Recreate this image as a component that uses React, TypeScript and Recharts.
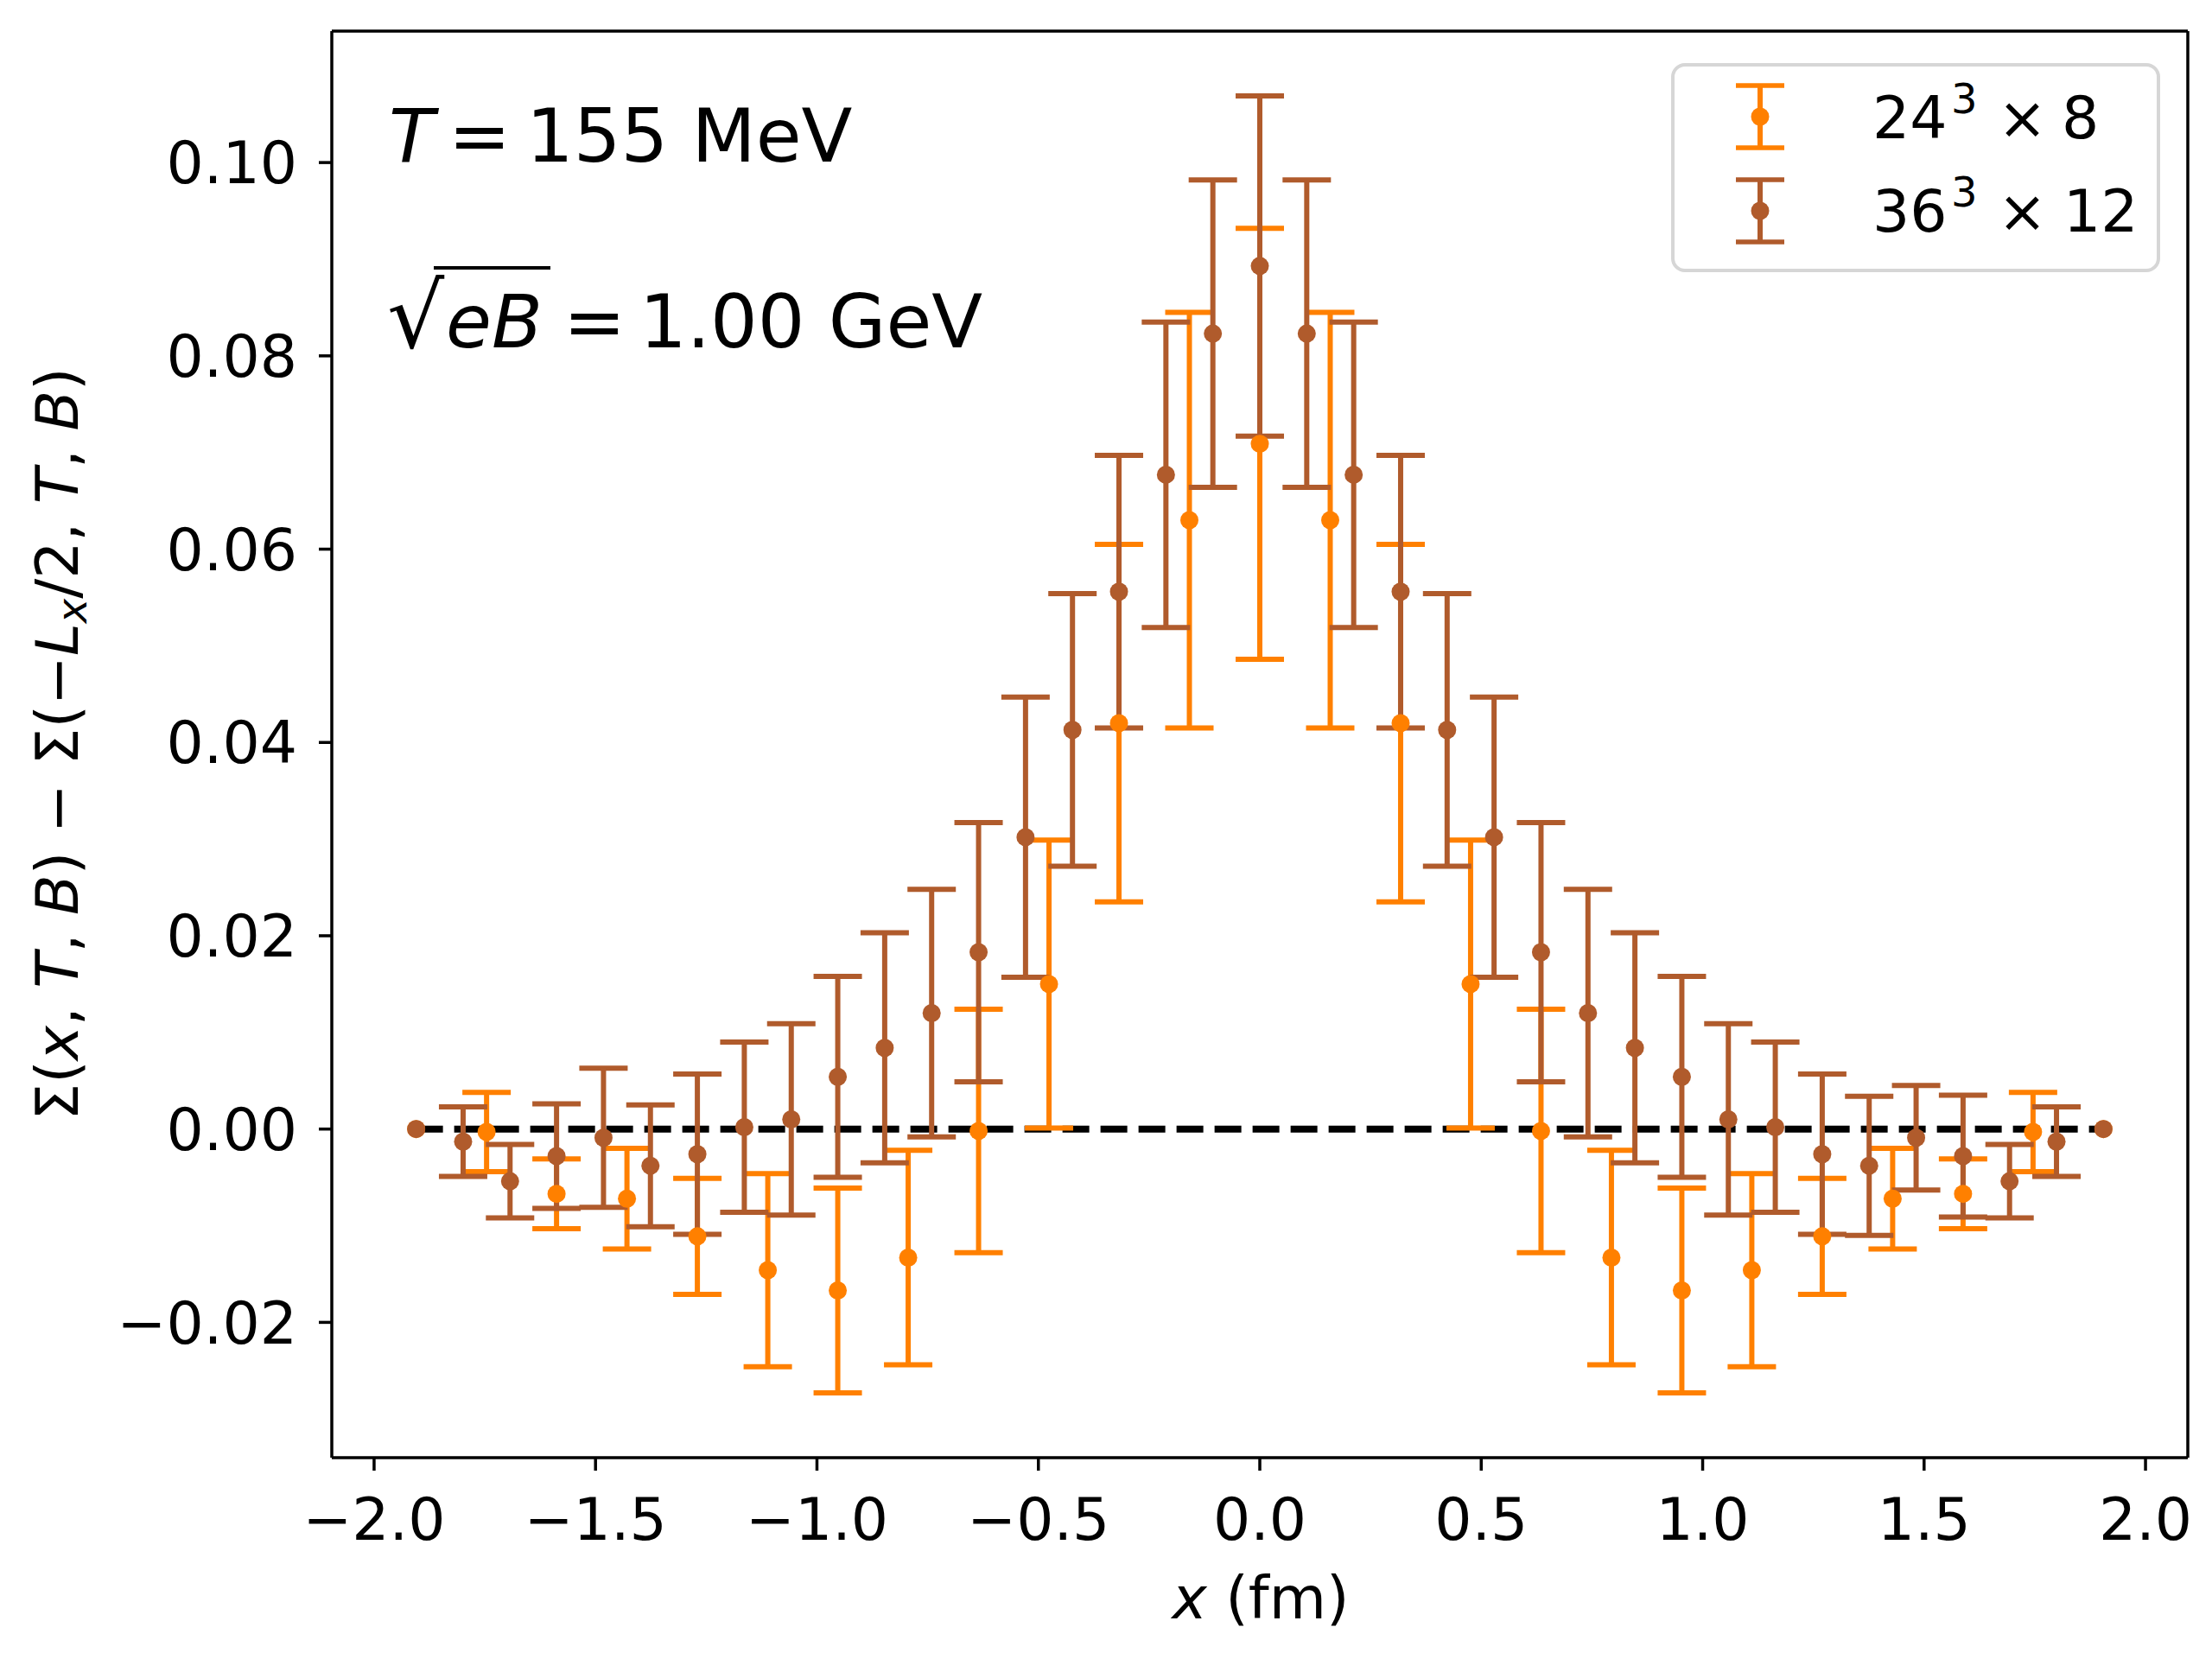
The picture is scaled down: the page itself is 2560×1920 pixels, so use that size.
import React from "react";
import {
  ScatterChart,
  Scatter,
  XAxis,
  YAxis,
  ErrorBar,
  ReferenceLine,
  Legend,
} from "recharts";

// lattice 24^3 x 8
const X_24 = [
  -1.905, -1.746, -1.588, -1.429, -1.27, -1.111, -0.953, -0.794, -0.635, -0.476, -0.318, -0.159, 0,
  0.159, 0.318, 0.476, 0.635, 0.794, 0.953, 1.111, 1.27, 1.429, 1.588, 1.746, 1.905,
];
const Y_24 = [
  0, -0.0003, -0.0067, -0.0072, -0.0111, -0.0146, -0.0167, -0.0133, -0.0002, 0.015, 0.042, 0.063, 0.0709,
  0.063, 0.042, 0.015, -0.0002, -0.0133, -0.0167, -0.0146, -0.0111, -0.0072, -0.0067, -0.0003, 0,
];
const E_24 = [
  0, 0.0041, 0.0036, 0.0052, 0.006, 0.01, 0.0106, 0.0111, 0.0126, 0.0149, 0.0185, 0.0215, 0.0223,
  0.0215, 0.0185, 0.0149, 0.0126, 0.0111, 0.0106, 0.01, 0.006, 0.0052, 0.0036, 0.0041, 0,
];

// lattice 36^3 x 12
const X_36 = [
  -1.905, -1.799, -1.693, -1.588, -1.482, -1.376, -1.27, -1.164, -1.058, -0.953, -0.847, -0.741, -0.635,
  -0.529, -0.423, -0.318, -0.212, -0.106, 0, 0.106, 0.212, 0.318, 0.423, 0.529, 0.635, 0.741, 0.847,
  0.953, 1.058, 1.164, 1.27, 1.376, 1.482, 1.588, 1.693, 1.799, 1.905,
];
const Y_36 = [
  0, -0.0013, -0.0054, -0.0028, -0.0009, -0.0038, -0.0026, 0.0002, 0.001, 0.0054, 0.0084, 0.012, 0.0183,
  0.0302, 0.0413, 0.0556, 0.0677, 0.0823, 0.0893, 0.0823, 0.0677, 0.0556, 0.0413, 0.0302, 0.0183, 0.012,
  0.0084, 0.0054, 0.001, 0.0002, -0.0026, -0.0038, -0.0009, -0.0028, -0.0054, -0.0013, 0,
];
const E_36 = [
  0, 0.0036, 0.0038, 0.0054, 0.0072, 0.0063, 0.0083, 0.0088, 0.0099, 0.0104, 0.0119, 0.0128, 0.0134,
  0.0145, 0.0141, 0.0141, 0.0158, 0.0159, 0.0176, 0.0159, 0.0158, 0.0141, 0.0141, 0.0145, 0.0134, 0.0128,
  0.0119, 0.0104, 0.0099, 0.0088, 0.0083, 0.0072, 0.0054, 0.0063, 0.0038, 0.0036, 0,
];

const X_TICKS = [-2, -1.5, -1, -0.5, 0, 0.5, 1, 1.5, 2];
const Y_TICKS = [-0.02, 0, 0.02, 0.04, 0.06, 0.08, 0.1];
const X_DOMAIN = [-2.0955, 2.0955];
const Y_DOMAIN = [-0.034, 0.1136];
const LINE_ENDS = [-1.905, 1.905];

const ORANGE = "#ff8000";
const BROWN = "#b05b2c";
const FONT = "DejaVu Sans";
const FS = 68;

const minus = (s: string) => s.replace("-", "\u2212");

const data24 = X_24.map((x, i) => ({ x, y: Y_24[i], err: E_24[i] }));
const data36 = X_36.map((x, i) => ({ x, y: Y_36[i], err: E_36[i] }));

const axisStyle = { stroke: "#000", strokeWidth: 3.5 };
const tickStyle = { fontSize: FS, fontFamily: FONT, fill: "#000" };

const dot = (color: string) => (props: any) =>
  <circle cx={props.cx} cy={props.cy} r={10.5} fill={color} />;

function Icon({ cx, cy, color }: { cx: number; cy: number; color: string }) {
  return (
    <g stroke={color}>
      <line x1={cx} y1={cy - 36} x2={cx} y2={cy + 36} strokeWidth={6} />
      <line x1={cx - 28} y1={cy - 36} x2={cx + 28} y2={cy - 36} strokeWidth={5.5} />
      <line x1={cx - 28} y1={cy + 36} x2={cx + 28} y2={cy + 36} strokeWidth={5.5} />
      <circle cx={cx} cy={cy} r={10.5} fill={color} stroke="none" />
    </g>
  );
}

function LegendBox() {
  return (
    <svg width={566} height={242} style={{ display: "block" }}>
      <rect x={2} y={2} width={562} height={238} rx={14} fill="#fff" stroke="#d6d6d6" strokeWidth={4} />
      <Icon cx={103} cy={62} color={ORANGE} />
      <Icon cx={103} cy={171} color={BROWN} />
      <text y={87} fontFamily={FONT} fontSize={FS} fill="#000">
        <tspan x={233}>24</tspan>
        <tspan x={324} y={58} fontSize={48}>3</tspan>
        <tspan x={378} y={87}>×</tspan>
        <tspan x={452}>8</tspan>
      </text>
      <text y={195} fontFamily={FONT} fontSize={FS} fill="#000">
        <tspan x={233}>36</tspan>
        <tspan x={324} y={166} fontSize={48}>3</tspan>
        <tspan x={378} y={195}>×</tspan>
        <tspan x={454}>12</tspan>
      </text>
    </svg>
  );
}

export default function App() {
  return (
    <div
      style={{
        position: "absolute",
        left: 0,
        top: 0,
        width: 2560,
        height: 1920,
        background: "#fff",
        fontFamily: FONT,
      }}
    >
      <ScatterChart width={2560} height={1920} margin={{ top: 36, right: 28, bottom: 0, left: 0 }}>
        <XAxis
          type="number"
          dataKey="x"
          domain={X_DOMAIN}
          allowDataOverflow
          ticks={X_TICKS}
          interval={0}
          tickFormatter={(v: number) => minus(v.toFixed(1))}
          height={233}
          tick={tickStyle}
          tickSize={15}
          tickMargin={32}
          axisLine={axisStyle}
          tickLine={axisStyle}
        />
        <YAxis
          type="number"
          dataKey="y"
          domain={Y_DOMAIN}
          allowDataOverflow
          ticks={Y_TICKS}
          interval={0}
          tickFormatter={(v: number) => minus(v.toFixed(2))}
          width={384}
          tick={tickStyle}
          tickSize={15}
          tickMargin={25}
          axisLine={axisStyle}
          tickLine={axisStyle}
        />
        {/* top and right spines */}
        <ReferenceLine y={Y_DOMAIN[1]} stroke="#000" strokeWidth={3.5} />
        <ReferenceLine x={X_DOMAIN[1]} stroke="#000" strokeWidth={3.5} />
        <ReferenceLine
          segment={[
            { x: LINE_ENDS[0], y: 0 },
            { x: LINE_ENDS[1], y: 0 },
          ]}
          stroke="#000"
          strokeWidth={8}
          strokeDasharray="31 13"
        />
        <Scatter data={data24} fill={ORANGE} shape={dot(ORANGE)} isAnimationActive={false}>
          <ErrorBar dataKey="err" direction="y" width={28} strokeWidth={6} stroke={ORANGE} isAnimationActive={false} />
        </Scatter>
        <Scatter data={data36} fill={BROWN} shape={dot(BROWN)} isAnimationActive={false}>
          <ErrorBar dataKey="err" direction="y" width={28} strokeWidth={6} stroke={BROWN} isAnimationActive={false} />
        </Scatter>
        <Legend
          content={LegendBox}
          layout="horizontal"
          verticalAlign="middle"
          align="center"
          wrapperStyle={{ left: 1934, top: 73, width: 566, height: 242 }}
        />
      </ScatterChart>

      {/* annotations and axis titles */}
      <svg
        width={2560}
        height={1920}
        style={{ position: "absolute", left: 0, top: 0, pointerEvents: "none" }}
        fontFamily={FONT}
      >
        <text y={187} fontSize={86} fill="#000">
          <tspan x={450} fontStyle="italic">T</tspan>
          <tspan x={519}>=</tspan>
          <tspan x={609}>155 MeV</tspan>
        </text>
        <text y={402} fontSize={86} fill="#000">
          <tspan x={448} fontSize={104}>√</tspan>
          <tspan x={516} fontStyle="italic">eB</tspan>
          <tspan x={652}>=</tspan>
          <tspan x={740}>1.00 GeV</tspan>
        </text>
        <line x1={502} y1={310} x2={637} y2={310} stroke="#000" strokeWidth={4} />
        <text x={1459} y={1873} fontSize={FS} textAnchor="middle" fill="#000">
          <tspan fontStyle="italic">x</tspan>
          <tspan> (fm)</tspan>
        </text>
        <text
          x={90}
          y={861}
          fontSize={FS}
          textAnchor="middle"
          fill="#000"
          transform="rotate(-90 90 861)"
        >
          <tspan>Σ(</tspan>
          <tspan fontStyle="italic">x</tspan>
          <tspan>, </tspan>
          <tspan fontStyle="italic">T</tspan>
          <tspan>, </tspan>
          <tspan fontStyle="italic">B</tspan>
          <tspan>) − Σ(−</tspan>
          <tspan fontStyle="italic">L</tspan>
          <tspan fontStyle="italic" fontSize={48} dy={10}>x</tspan>
          <tspan dy={-10}>/2, </tspan>
          <tspan fontStyle="italic">T</tspan>
          <tspan>, </tspan>
          <tspan fontStyle="italic">B</tspan>
          <tspan>)</tspan>
        </text>
      </svg>
    </div>
  );
}
